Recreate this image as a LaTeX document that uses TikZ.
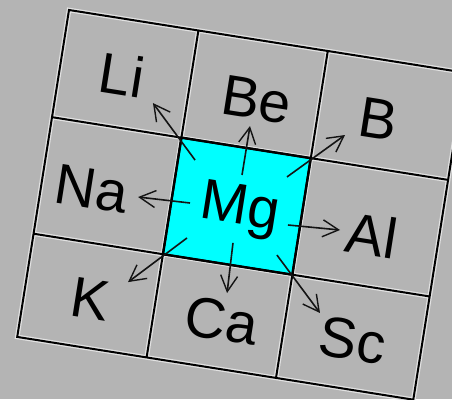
\documentclass[tikz,border=0pt]{standalone}
\usepackage{fontspec}
\setmainfont{Liberation Sans}
\usetikzlibrary{arrows.meta}
\definecolor{bg}{RGB}{180,180,180}
\definecolor{halo}{RGB}{226,226,226}
\definecolor{mgcyan}{RGB}{0,255,255}
\begin{document}
\begin{tikzpicture}[x=1pt,y=1pt,
  gridline/.style={line width=2pt, draw=black},
  haloline/.style={line width=4.6pt, draw=halo},
  elem/.style={font=\fontsize{57}{60}\selectfont, text height=40.8pt, text depth=0pt, inner sep=0pt, text=black},
  link/.style={line width=1.6pt, draw=black!92, -{Straight Barb[length=16pt,width=17pt,line width=1.4pt]}}]
\useasboundingbox (0,0) rectangle (452,-399);
\fill[bg] (0,0) rectangle (452,-399);
\clip (0,0) rectangle (452,-399);
\begin{scope}[shift={(69,-10)}, rotate=-9, transform shape]
  % halo under grid lines
  \draw[haloline] (0,0) rectangle (401,-331);
  \draw[haloline] (131,0) -- (131,-331) (262,0) -- (262,-331);
  \draw[haloline] (0,-108.5) -- (401,-108.5) (0,-226.5) -- (401,-226.5);
  % centre cell
  \fill[mgcyan] (131,-108.5) rectangle (262,-226.5);
  % grid lines
  \draw[gridline] (0,0) rectangle (401,-331);
  \draw[gridline] (131,0) -- (131,-331) (262,0) -- (262,-331);
  \draw[gridline] (0,-108.5) -- (401,-108.5) (0,-226.5) -- (401,-226.5);
  \draw[line width=2.4pt] (131,-108.5) rectangle (262,-226.5);
  % labels
  \node[elem] (li) at (62.5,-55.9) {Li};
  \node[elem] (be) at (199.6,-58.5) {Be};
  \node[elem] (b)  at (322.1,-58.4) {B};
  \node[elem] (na) at (50.5,-172.2) {Na};
  \node[elem] (mg) at (200.2,-164.7) {Mg};
  \node[elem] (al) at (334.5,-174.8) {Al};
  \node[elem] (k)  at (65.8,-281.2) {K};
  \node[elem] (ca) at (199.6,-282.3) {Ca};
  \node[elem] (sc) at (332.1,-281.5) {Sc};
  % arrow ends
  \coordinate (liT) at (148,-128.5);  \coordinate (liH) at (97.5,-78.8);
  \coordinate (beT) at (196.7,-135.9); \coordinate (beH) at (196.9,-86.3);
  \coordinate (bT)  at (241.4,-130.8); \coordinate (bH)  at (292.2,-80.3);
  \coordinate (naT) at (149.7,-171.7); \coordinate (naH) at (97.5,-173.9);
  \coordinate (alT) at (249.9,-178.1); \coordinate (alH) at (302.1,-174.9);
  \coordinate (kT)  at (152.2,-206.7); \coordinate (kH)  at (100.9,-259.5);
  \coordinate (caT) at (198.4,-204.4); \coordinate (caH) at (200.4,-254.8);
  \coordinate (scT) at (243.7,-209.5); \coordinate (scH) at (295.3,-260.0);
  \draw[link] (liT) -- (liH);
  \draw[link] (beT) -- (beH);
  \draw[link] (bT) -- (bH);
  \draw[link] (naT) -- (naH);
  \draw[link] (alT) -- (alH);
  \draw[link] (kT) -- (kH);
  \draw[link] (caT) -- (caH);
  \draw[link] (scT) -- (scH);
\end{scope}
\end{tikzpicture}
\end{document}
